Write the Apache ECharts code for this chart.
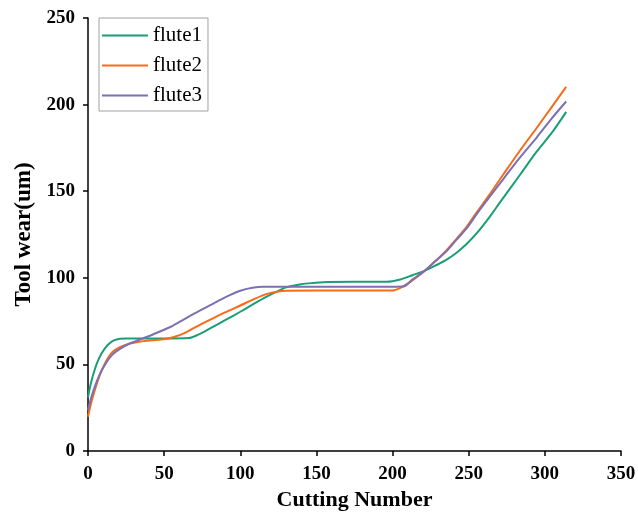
<!DOCTYPE html>
<html>
<head>
<meta charset="utf-8">
<script src="https://cdn.jsdelivr.net/npm/echarts@6/dist/echarts.min.js"></script>
<style>html,body{margin:0;padding:0;background:#fff}#c{width:638px;height:513px}</style>
</head>
<body>
<div id="c"></div>
<script>
const seriesNames = ['flute1', 'flute2', 'flute3'];
const xTicks = [0, 50, 100, 150, 200, 250, 300, 350];
const yTicks = [0, 50, 100, 150, 200, 250];

const flute1X = [0, 2, 4.6, 7, 9, 12, 14.4, 17, 21, 25, 40, 55, 66, 72, 82, 90, 100, 108, 117, 125, 130.5, 140, 148, 158, 175, 196, 205, 213, 221, 228, 235.5, 242, 248.6, 256, 264, 270.5, 283.7, 294.6, 305.6, 314];
const flute1Y = [31, 39.5, 47.5, 53, 56.5, 60.3, 62.4, 63.9, 64.8, 65, 65, 65, 65.2, 67, 71.7, 75.5, 80.4, 84.5, 89, 92.5, 94.6, 96.3, 97, 97.6, 97.7, 97.7, 99, 101.5, 104, 107, 110.5, 114.5, 119.5, 126.5, 135.5, 143.5, 159.5, 172.8, 185, 195.8];

const flute2X = [0, 2, 4.6, 7, 9, 12, 14.4, 17, 21, 26, 31, 40, 50.5, 57, 63.7, 70, 82, 90, 100, 108, 117, 124, 130.5, 150, 175, 199.4, 206, 213, 221, 228, 235.5, 242, 248.6, 255, 262.6, 272.6, 283.7, 294.6, 304, 314];
const flute2Y = [19.8, 27.5, 35.5, 42, 46.7, 52, 55.4, 57.8, 60, 61.7, 62.7, 63.8, 64.6, 66, 68.2, 71.2, 76.6, 80, 84, 87.3, 90.6, 92, 92.5, 92.6, 92.6, 92.6, 94.6, 98.5, 104, 109.5, 116, 122.5, 129.4, 137.5, 146.7, 159.5, 173.5, 186.5, 198, 210.2];

const flute3X = [0, 2, 4.6, 7, 9, 12, 14.4, 17, 21, 26, 31, 41.8, 52.5, 60.4, 70, 82, 90, 100, 108, 115, 150, 180, 207, 213, 221, 228, 235.5, 242, 248.6, 255, 261.8, 272.7, 283.7, 294.6, 304, 314];
const flute3Y = [23.7, 30.5, 37.5, 42.8, 46.5, 51, 54, 56.4, 59, 61.5, 63.3, 67, 71, 74.7, 79.5, 85, 88.7, 92.5, 94.2, 94.8, 94.8, 94.8, 95, 99, 104, 109.5, 115.5, 122, 128.5, 136.5, 144.5, 157, 169.5, 181, 191.5, 201.8];

const colors = ['#1a9e76', '#f76a18', '#7b70b6'];
const FONT = '"Liberation Serif", "Times New Roman", serif';

function pairs(xs, ys) { return xs.map((x, i) => [x, ys[i]]); }
const allX = [flute1X, flute2X, flute3X];
const allY = [flute1Y, flute2Y, flute3Y];

const chart = echarts.init(document.getElementById('c'), null, {renderer: 'canvas'});
chart.setOption({
  animation: false,
  backgroundColor: '#fff',
  grid: {left: 88, right: 17, top: 18, bottom: 62, containLabel: false, outerBoundsMode: 'none'},
  legend: {
    left: 99, top: 18,
    orient: 'vertical',
    data: seriesNames,
    itemWidth: 46, itemHeight: 20, itemGap: 9,
    padding: [7, 6, 5, 3],
    borderColor: '#a0a0a0', borderWidth: 1,
    textStyle: {fontFamily: FONT, fontSize: 21, color: '#000'},
    icon: 'path://M0,9 L46,9 L46,11 L0,11 Z'
  },
  xAxis: {
    type: 'value', min: xTicks[0], max: xTicks[xTicks.length - 1], interval: 50,
    name: 'Cutting Number', nameLocation: 'middle', nameGap: 38,
    nameTextStyle: {fontFamily: FONT, fontSize: 22, fontWeight: 'bold', color: '#000'},
    axisLine: {show: true, lineStyle: {color: '#000', width: 1.5}},
    axisTick: {show: true, inside: false, length: 5, lineStyle: {color: '#000', width: 1.5}},
    axisLabel: {fontFamily: FONT, fontSize: 19, fontWeight: 'bold', color: '#000', margin: 14},
    splitLine: {show: false}
  },
  yAxis: {
    type: 'value', min: yTicks[0], max: yTicks[yTicks.length - 1], interval: 50,
    name: 'Tool wear(um)', nameLocation: 'middle', nameGap: 46,
    nameTextStyle: {fontFamily: FONT, fontSize: 23, fontWeight: 'bold', color: '#000'},
    axisLine: {show: true, lineStyle: {color: '#000', width: 1.5}},
    axisTick: {show: true, inside: false, length: 5, lineStyle: {color: '#000', width: 1.5}},
    axisLabel: {fontFamily: FONT, fontSize: 19, fontWeight: 'bold', color: '#000', margin: 13},
    splitLine: {show: false}
  },
  series: seriesNames.map((n, i) => ({
    name: n, type: 'line', data: pairs(allX[i], allY[i]),
    smooth: 0.3, symbol: 'none', showSymbol: false,
    lineStyle: {color: colors[i], width: 2},
    itemStyle: {color: colors[i]}
  }))
});
</script>
</body>
</html>
